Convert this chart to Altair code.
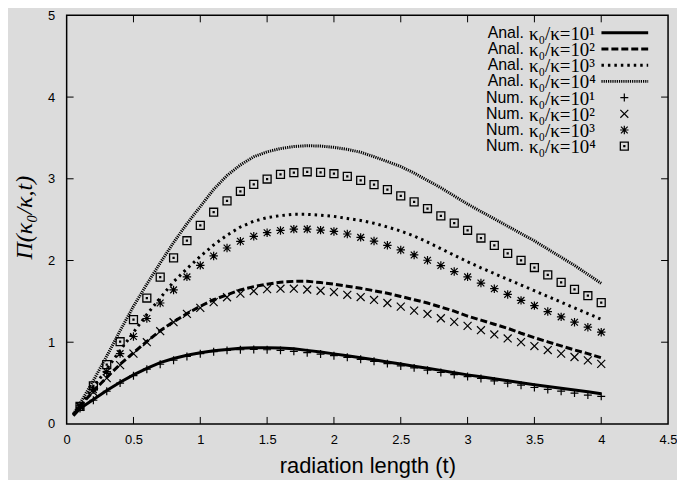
import altair as alt
import pandas as pd

# ---------------- data ----------------
t_anal = [0.05, 0.1, 0.2, 0.3, 0.4, 0.5, 0.6, 0.7, 0.8, 0.9,
          1.0, 1.1, 1.2, 1.3, 1.4, 1.5, 1.6, 1.7, 1.8, 1.9,
          2.0, 2.1, 2.2, 2.3, 2.4, 2.5, 2.6, 2.7, 2.8, 2.9,
          3.0, 3.1, 3.2, 3.3, 3.4, 3.5, 3.6, 3.7, 3.8, 3.9, 4.0]
anal_1 = [0.10, 0.19, 0.30, 0.41, 0.51, 0.60, 0.68, 0.75, 0.80, 0.84,
          0.87, 0.895, 0.912, 0.925, 0.932, 0.933, 0.93, 0.92, 0.90, 0.88,
          0.857, 0.835, 0.81, 0.785, 0.758, 0.733, 0.707, 0.682, 0.655, 0.627,
          0.60, 0.577, 0.552, 0.528, 0.505, 0.48, 0.458, 0.437, 0.416, 0.393, 0.37]
anal_2 = [0.11, 0.22, 0.40, 0.57, 0.73, 0.87, 1.01, 1.14, 1.25, 1.35,
          1.44, 1.52, 1.58, 1.64, 1.68, 1.71, 1.735, 1.745, 1.745, 1.73,
          1.71, 1.685, 1.66, 1.63, 1.60, 1.56, 1.52, 1.48, 1.43, 1.38,
          1.32, 1.27, 1.22, 1.17, 1.11, 1.055, 1.005, 0.955, 0.905, 0.86, 0.81]
anal_3 = [0.11, 0.23, 0.45, 0.67, 0.90, 1.12, 1.34, 1.54, 1.74, 1.90,
          2.05, 2.19, 2.31, 2.41, 2.48, 2.525, 2.55, 2.565, 2.565, 2.555,
          2.54, 2.515, 2.49, 2.455, 2.41, 2.36, 2.30, 2.225, 2.145, 2.065,
          1.985, 1.91, 1.84, 1.77, 1.70, 1.63, 1.56, 1.49, 1.42, 1.35, 1.28]
anal_4 = [0.12, 0.25, 0.53, 0.83, 1.14, 1.44, 1.71, 1.97, 2.22, 2.45,
          2.66, 2.87, 3.04, 3.17, 3.27, 3.33, 3.37, 3.395, 3.405, 3.40,
          3.385, 3.36, 3.325, 3.27, 3.21, 3.15, 3.07, 2.98, 2.89, 2.79,
          2.69, 2.60, 2.51, 2.42, 2.33, 2.24, 2.14, 2.04, 1.94, 1.83, 1.72]

t_num = [0.1, 0.2, 0.3, 0.4, 0.5, 0.6, 0.7, 0.8, 0.9,
         1.0, 1.1, 1.2, 1.3, 1.4, 1.5, 1.6, 1.7, 1.8, 1.9,
         2.0, 2.1, 2.2, 2.3, 2.4, 2.5, 2.6, 2.7, 2.8, 2.9,
         3.0, 3.1, 3.2, 3.3, 3.4, 3.5, 3.6, 3.7, 3.8, 3.9, 4.0]
num_1 = [0.19, 0.29, 0.40, 0.50, 0.59, 0.67, 0.73, 0.78, 0.825,
         0.86, 0.884, 0.90, 0.908, 0.912, 0.908, 0.90, 0.888, 0.872, 0.855,
         0.835, 0.815, 0.791, 0.766, 0.738, 0.71, 0.686, 0.657, 0.629, 0.604,
         0.58, 0.556, 0.527, 0.499, 0.474, 0.446, 0.422, 0.401, 0.377, 0.353, 0.337]
num_2 = [0.21, 0.39, 0.56, 0.72, 0.86, 1.0, 1.135, 1.245, 1.347,
         1.42, 1.49, 1.55, 1.594, 1.626, 1.65, 1.655, 1.655, 1.645, 1.63,
         1.614, 1.58, 1.553, 1.517, 1.48, 1.435, 1.387, 1.346, 1.293, 1.249,
         1.20, 1.147, 1.095, 1.046, 1.001, 0.953, 0.904, 0.86, 0.819, 0.778, 0.735]
num_3 = [0.22, 0.42, 0.64, 0.86, 1.07, 1.29, 1.48, 1.64, 1.80,
         1.94, 2.056, 2.153, 2.235, 2.296, 2.34, 2.368, 2.384, 2.384, 2.372,
         2.356, 2.324, 2.283, 2.238, 2.186, 2.129, 2.068, 2.003, 1.938, 1.865,
         1.80, 1.724, 1.655, 1.585, 1.512, 1.448, 1.375, 1.31, 1.245, 1.184, 1.123]
num_4 = [0.215, 0.466, 0.726, 1.006, 1.277, 1.541, 1.797, 2.032, 2.242,
         2.43, 2.591, 2.729, 2.847, 2.932, 2.997, 3.054, 3.074, 3.086, 3.078,
         3.062, 3.029, 2.98, 2.928, 2.867, 2.79, 2.717, 2.636, 2.546, 2.457,
         2.37, 2.275, 2.186, 2.088, 2.003, 1.914, 1.825, 1.732, 1.646, 1.569, 1.484]

x_tick_values = [0, 0.5, 1, 1.5, 2, 2.5, 3, 3.5, 4, 4.5]
y_tick_values = [0, 1, 2, 3, 4, 5]
x_inner_ticks = [0.5, 1, 1.5, 2, 2.5, 3, 3.5, 4]
y_inner_ticks = [1, 2, 3, 4]

legend_prefix = ["Anal.", "Anal.", "Anal.", "Anal.", "Num.", "Num.", "Num.", "Num."]
legend_ratio = ["κ₀/κ=10¹", "κ₀/κ=10²", "κ₀/κ=10³", "κ₀/κ=10⁴",
                "κ₀/κ=10¹", "κ₀/κ=10²", "κ₀/κ=10³", "κ₀/κ=10⁴"]

# ---------------- styling ----------------
W, H = 605, 411
BG = "#dcdcdc"
xs = alt.Scale(domain=[0, 4.5], nice=False, zero=False)
ys = alt.Scale(domain=[0, 5], nice=False, zero=False)

xaxis = alt.Axis(values=x_tick_values, format="~g", ticks=False, tickSize=0, domain=False,
                 grid=False, labelFlush=False, labelOverlap=False, labelFontSize=13,
                 labelFont="Liberation Sans", labelColor="black", labelPadding=10,
                 title="radiation length (t)", titleFont="Liberation Sans",
                 titleFontSize=22, titleFontWeight="normal", titleColor="black",
                 titleX=W / 2, titleY=42, titleAlign="center", titleBaseline="middle")
yaxis = alt.Axis(values=y_tick_values, format="d", ticks=False, tickSize=0, domain=False,
                 grid=False, labelFlush=False, labelOverlap=False, labelFontSize=13,
                 labelFont="Liberation Sans", labelColor="black", labelPadding=12,
                 title="Π(κ₀/κ,t)", titleFont="Liberation Serif", titleFontStyle="italic",
                 titleFontSize=24, titleFontWeight="normal", titleColor="black",
                 titleAngle=270, titleX=-42, titleY=203, titleAlign="center",
                 titleBaseline="middle")

line_styles = [
    dict(strokeWidth=3),
    dict(strokeWidth=3, strokeDash=[7, 3]),
    dict(strokeWidth=3, strokeDash=[2.5, 4]),
    dict(strokeWidth=3, strokeDash=[1.2, 1]),
]
SHAPE_PLUS = "M-1,0L1,0M0,-1L0,1"
SHAPE_X = "M-1,-1L1,1M-1,1L1,-1"
SHAPE_STAR = "M-1,0L1,0M0,-1L0,1M-0.8,-0.8L0.8,0.8M-0.8,0.8L0.8,-0.8"
SHAPE_BOX = "M-1,-1L1,-1L1,1L-1,1ZM-0.12,-0.12L0.12,-0.12L0.12,0.12L-0.12,0.12Z"
point_styles = [
    dict(shape=SHAPE_PLUS, size=64, strokeWidth=1.2),
    dict(shape=SHAPE_X, size=64, strokeWidth=1.2),
    dict(shape=SHAPE_STAR, size=72, strokeWidth=1.2),
    dict(shape=SHAPE_BOX, size=64, strokeWidth=1.3),
]

layers = []
for vals, st in zip([anal_1, anal_2, anal_3, anal_4], line_styles):
    df = pd.DataFrame({"t": t_anal, "v": vals})
    layers.append(alt.Chart(df).mark_line(color="black", **st).encode(
        x=alt.X("t:Q", scale=xs, axis=xaxis), y=alt.Y("v:Q", scale=ys, axis=yaxis)))
for vals, st in zip([num_1, num_2, num_3, num_4], point_styles):
    df = pd.DataFrame({"t": t_num, "v": vals})
    layers.append(alt.Chart(df).mark_point(filled=False, color="black", opacity=1, **st).encode(
        x=alt.X("t:Q", scale=xs, axis=xaxis), y=alt.Y("v:Q", scale=ys, axis=yaxis)))

# inward mirrored ticks
dfx = pd.DataFrame({"t": x_inner_ticks})
dfy = pd.DataFrame({"v": y_inner_ticks})
TK = 7
layers.append(alt.Chart(dfx).mark_rule(color="black", strokeWidth=1).encode(
    x=alt.X("t:Q", scale=xs, axis=xaxis), y=alt.value(H), y2=alt.value(H - TK)))
layers.append(alt.Chart(dfx).mark_rule(color="black", strokeWidth=1).encode(
    x=alt.X("t:Q", scale=xs, axis=xaxis), y=alt.value(0), y2=alt.value(TK)))
layers.append(alt.Chart(dfy).mark_rule(color="black", strokeWidth=1).encode(
    y=alt.Y("v:Q", scale=ys, axis=yaxis), x=alt.value(0), x2=alt.value(TK)))
layers.append(alt.Chart(dfy).mark_rule(color="black", strokeWidth=1).encode(
    y=alt.Y("v:Q", scale=ys, axis=yaxis), x=alt.value(W), x2=alt.value(W - TK)))

# legend (top right, inside the frame)
one = pd.DataFrame({"k": [0]})
LY0, LDY = 17.5, 16.3
for i in range(8):
    ly = LY0 + LDY * i
    layers.append(alt.Chart(one).mark_text(
        align="right", baseline="middle", font="Liberation Sans", fontSize=16, color="black"
    ).encode(x=alt.value(460), y=alt.value(ly), text=alt.value(legend_prefix[i])))
    layers.append(alt.Chart(one).mark_text(
        align="left", baseline="middle", font="Liberation Serif", fontSize=19, color="black"
    ).encode(x=alt.value(465), y=alt.value(ly + 1), text=alt.value(legend_ratio[i])))
    if i < 4:
        layers.append(alt.Chart(one).mark_rule(color="black", **line_styles[i]).encode(
            x=alt.value(538), x2=alt.value(585), y=alt.value(ly)))
    else:
        layers.append(alt.Chart(one).mark_point(filled=False, color="black", opacity=1,
                                                **point_styles[i - 4]).encode(
            x=alt.value(561), y=alt.value(ly)))

chart = alt.layer(*layers).properties(
    width=W, height=H, background=BG,
    autosize=alt.AutoSizeParams(type="none"),
    padding={"left": 59, "top": 6, "right": 9, "bottom": 55},
).configure_view(stroke="black", strokeWidth=1.5)

chart.save("out.html", embed_options={"renderer": "svg", "actions": False})
